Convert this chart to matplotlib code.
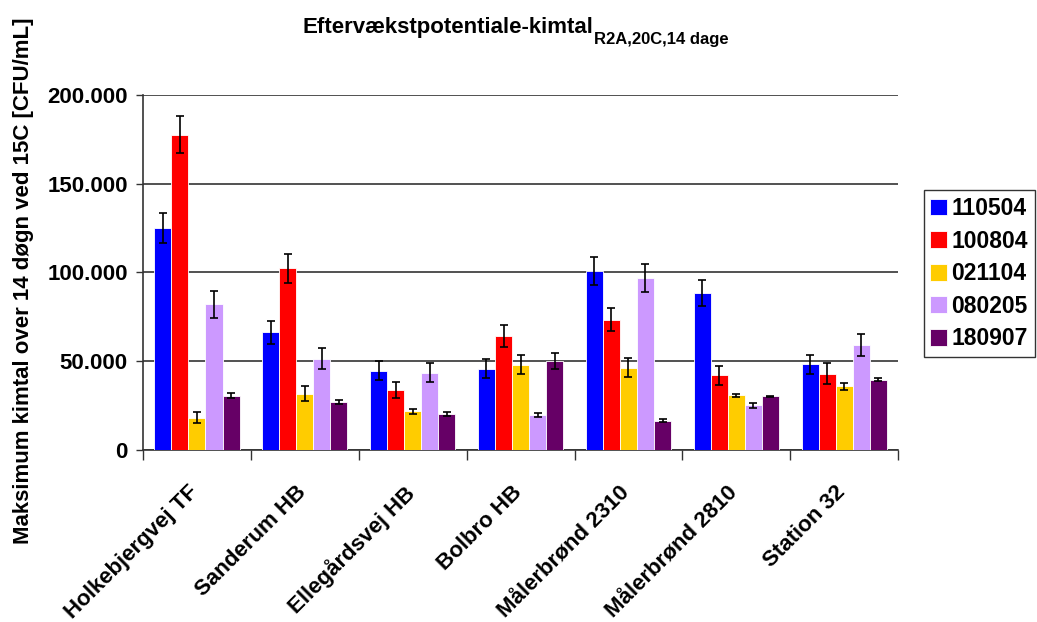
import matplotlib
matplotlib.use("Agg")
import matplotlib.pyplot as plt
import matplotlib.transforms as mtransforms
from matplotlib.ticker import FuncFormatter
import numpy as np

plt.rcParams.update({
    "font.family": ["Liberation Sans", "DejaVu Sans"],
    "font.weight": "bold",
})

sites = ["Holkebjergvej TF", "Sanderum HB", "Ellegårdsvej HB", "Bolbro HB",
         "Målerbrønd 2310", "Målerbrønd 2810", "Station 32"]
series = ["110504", "100804", "021104", "080205", "180907"]
colors = ["#0000FF", "#FF0000", "#FFCC00", "#CC99FF", "#660066"]

# values per series (CFU/mL), one entry per site
v_110504 = [125100, 66200, 44600, 45800, 100800, 88300, 48300]
v_100804 = [177700, 102300, 34000, 64300, 73500, 42100, 43100]
v_021104 = [18300, 31800, 21700, 48100, 46400, 30900, 35800]
v_080205 = [82100, 51400, 43600, 19500, 96900, 25200, 59000]
v_180907 = [30700, 27300, 20200, 50100, 16600, 30200, 39700]

e_110504 = [8500, 6500, 5300, 5300, 7900, 7300, 5400]
e_100804 = [10500, 8000, 4500, 6200, 6700, 5200, 6100]
e_021104 = [3300, 4400, 1200, 5200, 5400, 800, 2200]
e_080205 = [7500, 6000, 5500, 1100, 8100, 1400, 6300]
e_180907 = [1300, 1100, 1200, 4700, 1000, 300, 1100]

values = [v_110504, v_100804, v_021104, v_080205, v_180907]
errors = [e_110504, e_100804, e_021104, e_080205, e_180907]

fig = plt.figure(figsize=(10.37, 6.22), dpi=100)
ax = fig.add_axes([0.1379, 0.2765, 0.7282, 0.5708])

x = np.arange(len(sites))
w = 0.158
for i, (name, vals, errs, c) in enumerate(zip(series, values, errors, colors)):
    pos = x + (i - 2) * w
    ax.bar(pos, vals, width=w, color=c, edgecolor="white", linewidth=0.6,
           label=name, zorder=3)
    ax.errorbar(pos, vals, yerr=errs, fmt="none", ecolor="black",
                elinewidth=1.2, capsize=3.2, capthick=1.2, zorder=4)

ax.set_xlim(-0.5, len(sites) - 0.5)
ax.set_ylim(0, 200000)
ax.set_yticks(np.arange(0, 200001, 50000))
ax.yaxis.set_major_formatter(FuncFormatter(
    lambda v, p: f"{int(v):,}".replace(",", ".")))
ax.yaxis.grid(True, color="#333333", lw=1.2, zorder=0)

ax.set_xticks(np.arange(-0.5, len(sites), 1.0))
ax.set_xticklabels([])
ax.set_xticks(x, minor=True)
ax.set_xticklabels(sites, minor=True, rotation=45, ha="right",
                   rotation_mode="anchor", fontsize=16, fontweight="bold")
ax.tick_params(axis="x", which="minor", length=0, pad=23)
ax.tick_params(axis="x", which="major", length=7, width=1, color="#333333")
ax.tick_params(axis="y", length=5, width=1, color="#333333",
               labelsize=16, pad=6)
shift = mtransforms.ScaledTranslation(-9 / 100, 0, fig.dpi_scale_trans)
for lab in ax.get_xticklabels(minor=True):
    lab.set_transform(lab.get_transform() + shift)

for s in ["top", "right"]:
    ax.spines[s].set_visible(False)
for s in ["left", "bottom"]:
    ax.spines[s].set_color("#333333")
    ax.spines[s].set_linewidth(1.2)

ax.set_ylabel("Maksimum kimtal over 14 døgn ved 15C [CFU/mL]",
              fontsize=16, fontweight="bold")
ax.yaxis.set_label_coords(-0.145, 0.476)

t = fig.text(0.292, 0.947, "Eftervækstpotentiale-kimtal", fontsize=16,
             fontweight="bold", ha="left", va="baseline")
ax.annotate("R2A,20C,14 dage", xy=(1, 0), xycoords=t, xytext=(0.5, -4.5),
            textcoords="offset points", fontsize=12, fontweight="bold",
            ha="left", va="baseline", annotation_clip=False)

leg = fig.legend(loc="center right", bbox_to_anchor=(0.998, 0.560),
                 fontsize=16.5, frameon=True, fancybox=False,
                 edgecolor="black", handlelength=0.7, handleheight=0.75,
                 handletextpad=0.22, borderpad=0.3, borderaxespad=0,
                 labelspacing=0.42)
leg.get_frame().set_linewidth(1.0)
for txt in leg.get_texts():
    txt.set_fontweight("bold")

fig.savefig("out.png", dpi=100, facecolor="white")
